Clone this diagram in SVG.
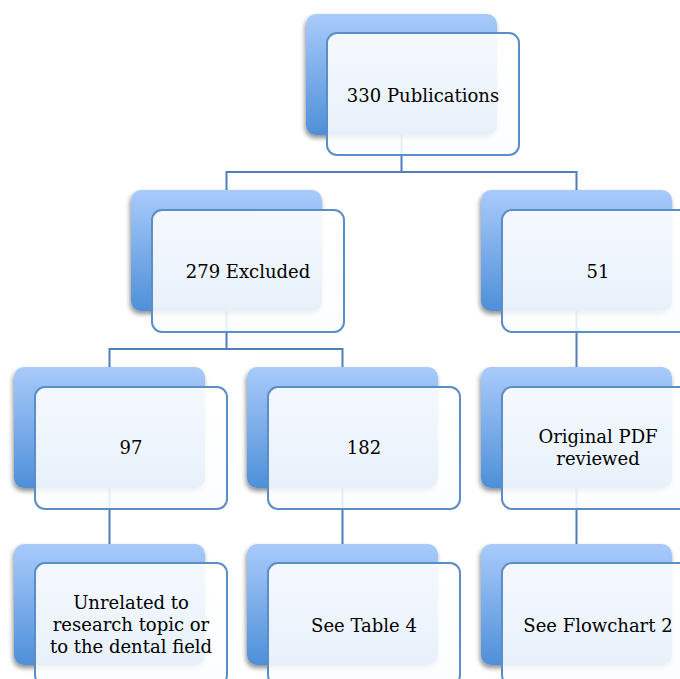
<svg xmlns="http://www.w3.org/2000/svg" width="680" height="679" viewBox="0 0 680 679">
<defs>
<linearGradient id="bg" x1="0" y1="0" x2="0" y2="1">
<stop offset="0" stop-color="#a9cbfb"/>
<stop offset="1" stop-color="#4e8fd9"/>
</linearGradient>
<linearGradient id="fg" x1="0" y1="0" x2="0" y2="1">
<stop offset="0" stop-color="#ffffff" stop-opacity="0.9"/>
<stop offset="1" stop-color="#fbfdff" stop-opacity="0.88"/>
</linearGradient>
<filter id="sh" x="-20%" y="-20%" width="140%" height="140%">
<feGaussianBlur in="SourceAlpha" stdDeviation="2.5"/>
<feOffset dx="-1" dy="3" result="b"/>
<feComponentTransfer><feFuncA type="linear" slope="0.45"/></feComponentTransfer>
<feMerge><feMergeNode/><feMergeNode in="SourceGraphic"/></feMerge>
</filter>
</defs>
<style>
.back{fill:url(#bg);filter:url(#sh)}
.front{fill:url(#fg);stroke:#5a8ec8;stroke-width:2}
.conn{fill:none;stroke:#4f7fbb;stroke-width:2}
text{font-family:"DejaVu Serif","Liberation Serif",serif;font-size:18px;fill:#000;text-anchor:middle}
</style>
<rect width="680" height="679" fill="#ffffff"/>
<g id="connectors" class="conn">
<path d="M401.5,135 V172 H226.5 V190 M401.5,172 H576.5 V190"/>
<path d="M226.5,310 V349 H109.5 V367 M226.5,349 H342.5 V367"/>
<path d="M576.5,310 V367"/>
<path d="M109.5,488 V544 M342.5,488 V544 M576.5,488 V544"/>
</g>
<g id="n330">
<rect class="back" x="306" y="14" width="191" height="121" rx="10"/>
<rect class="front" x="327" y="33" width="192" height="122" rx="10"/>
<text x="423" y="102">330 Publications</text>
</g>
<g id="n279">
<rect class="back" x="131" y="190" width="191" height="121" rx="10"/>
<rect class="front" x="152" y="210" width="192" height="122" rx="10"/>
<text x="248" y="278">279 Excluded</text>
</g>
<g id="n51">
<rect class="back" x="481" y="190" width="191" height="121" rx="10"/>
<rect class="front" x="502" y="210" width="192" height="122" rx="10"/>
<text x="598" y="278">51</text>
</g>
<g id="n97">
<rect class="back" x="14" y="367" width="191" height="121" rx="10"/>
<rect class="front" x="35" y="387" width="192" height="122" rx="10"/>
<text x="131" y="454">97</text>
</g>
<g id="n182">
<rect class="back" x="247" y="367" width="191" height="121" rx="10"/>
<rect class="front" x="268" y="387" width="192" height="122" rx="10"/>
<text x="364" y="454">182</text>
</g>
<g id="nPDF">
<rect class="back" x="481" y="367" width="191" height="121" rx="10"/>
<rect class="front" x="502" y="387" width="192" height="122" rx="10"/>
<text x="598" y="443">Original PDF</text>
<text x="598" y="465">reviewed</text>
</g>
<g id="nUnrelated">
<rect class="back" x="14" y="544" width="191" height="121" rx="10"/>
<rect class="front" x="35" y="563" width="192" height="122" rx="10"/>
<text x="131" y="609">Unrelated to</text>
<text x="131" y="631">research topic or</text>
<text x="131" y="653">to the dental field</text>
</g>
<g id="nTable4">
<rect class="back" x="247" y="544" width="191" height="121" rx="10"/>
<rect class="front" x="268" y="563" width="192" height="122" rx="10"/>
<text x="364" y="632">See Table 4</text>
</g>
<g id="nFlow2">
<rect class="back" x="481" y="544" width="191" height="121" rx="10"/>
<rect class="front" x="502" y="563" width="192" height="122" rx="10"/>
<text x="598" y="632">See Flowchart 2</text>
</g>
</svg>
